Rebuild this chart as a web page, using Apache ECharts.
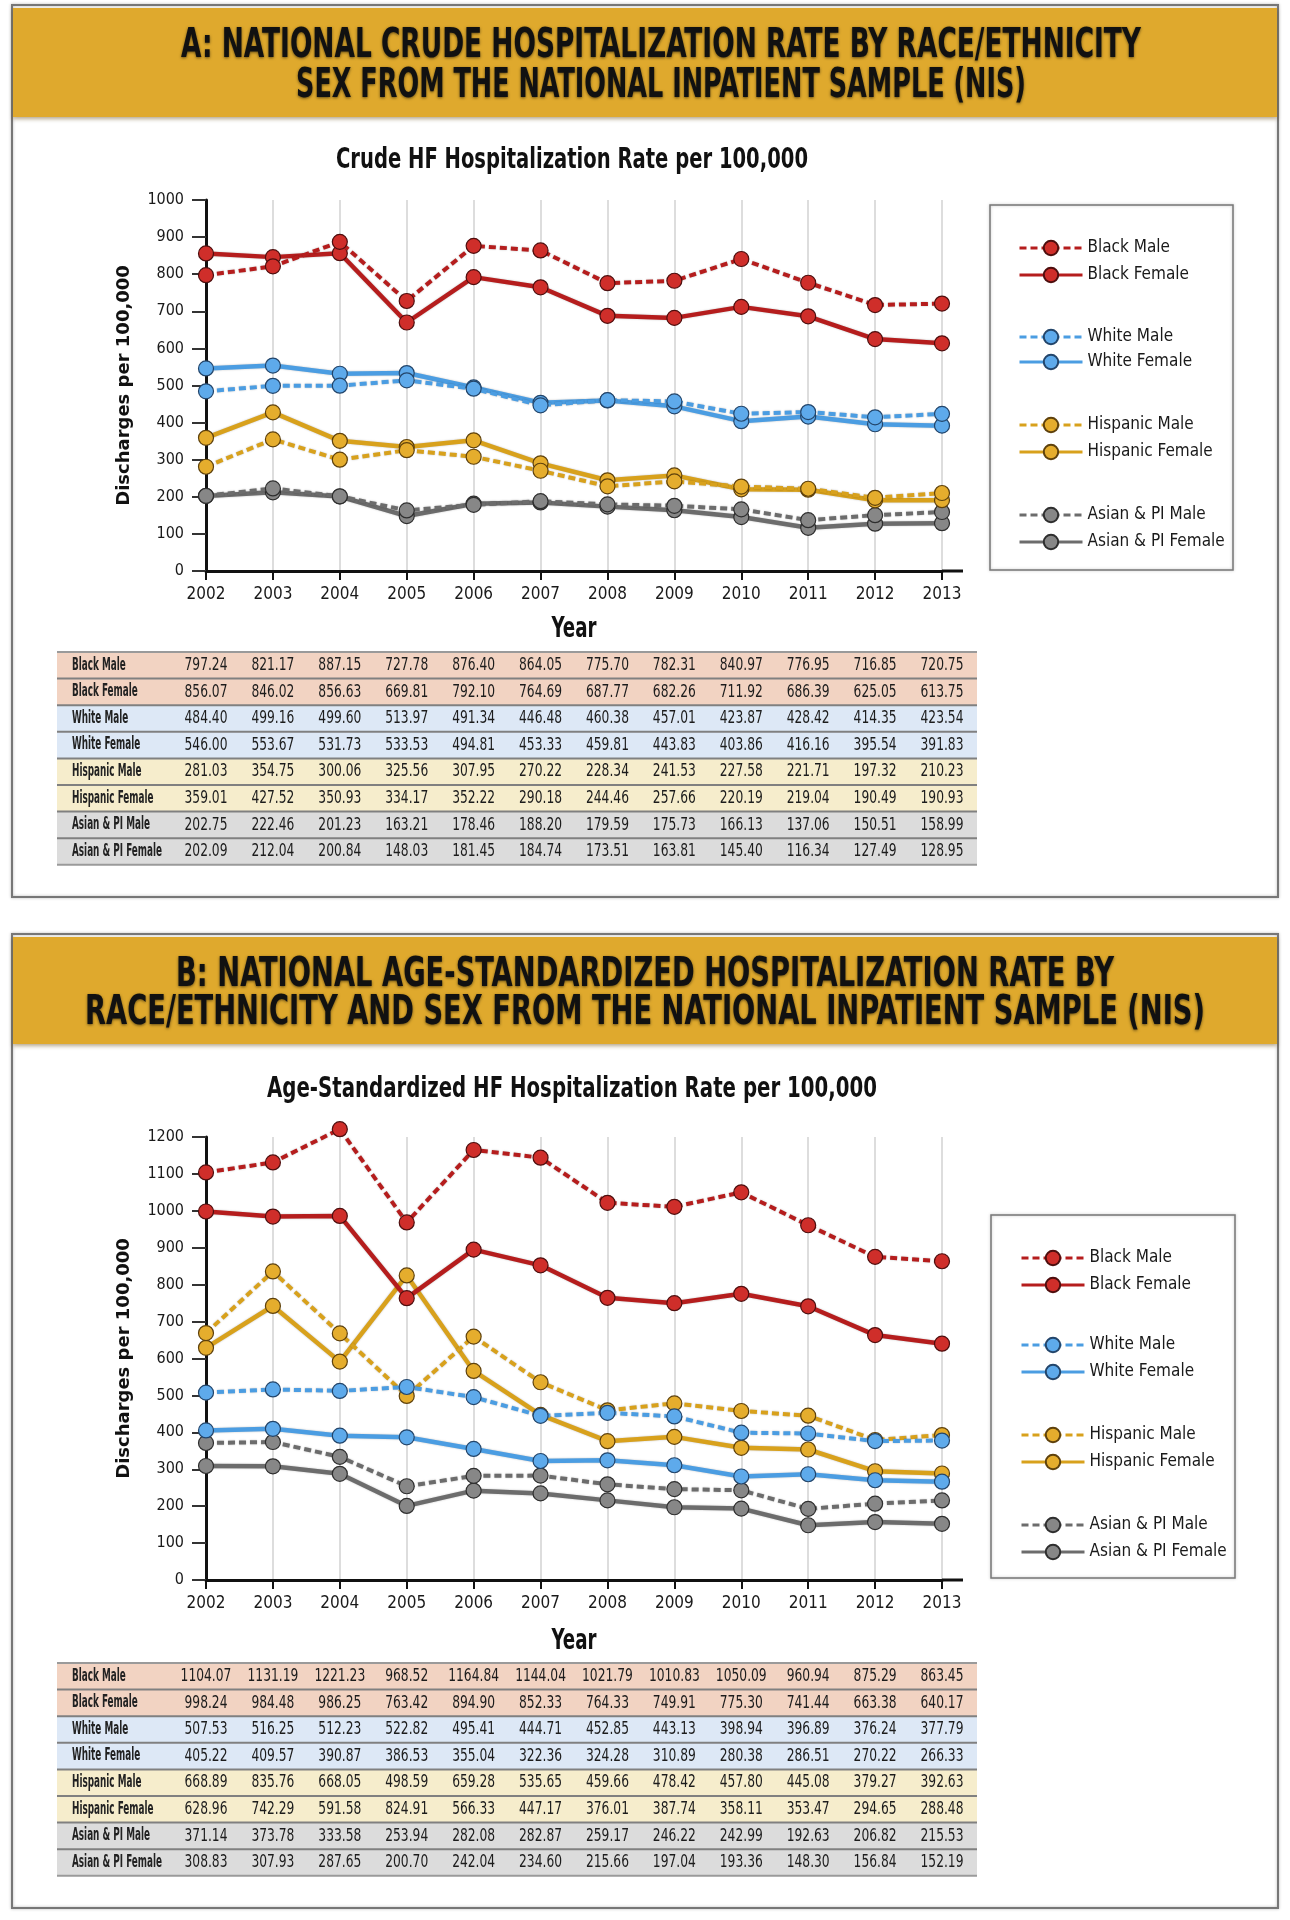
<!DOCTYPE html>
<html><head><meta charset="utf-8">
<script src="https://cdn.jsdelivr.net/npm/echarts/dist/echarts.min.js"></script>
<style>html,body{margin:0;padding:0;background:#fff}#c{width:1290px;height:1920px}</style>
</head><body><div id="c"></div>
<script>
// ---------------- DATA ----------------
const years = ['2002','2003','2004','2005','2006','2007','2008','2009','2010','2011','2012','2013'];
const seriesNames = ['Black Male','Black Female','White Male','White Female','Hispanic Male','Hispanic Female','Asian & PI Male','Asian & PI Female'];
const yTicksA = {min:0, max:1000, step:100};
const yTicksB = {min:0, max:1200, step:100};

// A: crude rate
const blackMaleA    = [797.24, 821.17, 887.15, 727.78, 876.40, 864.05, 775.70, 782.31, 840.97, 776.95, 716.85, 720.75];
const blackFemaleA  = [856.07, 846.02, 856.63, 669.81, 792.10, 764.69, 687.77, 682.26, 711.92, 686.39, 625.05, 613.75];
const whiteMaleA    = [484.40, 499.16, 499.60, 513.97, 491.34, 446.48, 460.38, 457.01, 423.87, 428.42, 414.35, 423.54];
const whiteFemaleA  = [546.00, 553.67, 531.73, 533.53, 494.81, 453.33, 459.81, 443.83, 403.86, 416.16, 395.54, 391.83];
const hispMaleA     = [281.03, 354.75, 300.06, 325.56, 307.95, 270.22, 228.34, 241.53, 227.58, 221.71, 197.32, 210.23];
const hispFemaleA   = [359.01, 427.52, 350.93, 334.17, 352.22, 290.18, 244.46, 257.66, 220.19, 219.04, 190.49, 190.93];
const asianMaleA    = [202.75, 222.46, 201.23, 163.21, 178.46, 188.20, 179.59, 175.73, 166.13, 137.06, 150.51, 158.99];
const asianFemaleA  = [202.09, 212.04, 200.84, 148.03, 181.45, 184.74, 173.51, 163.81, 145.40, 116.34, 127.49, 128.95];

// B: age-standardized rate
const blackMaleB    = [1104.07, 1131.19, 1221.23, 968.52, 1164.84, 1144.04, 1021.79, 1010.83, 1050.09, 960.94, 875.29, 863.45];
const blackFemaleB  = [998.24, 984.48, 986.25, 763.42, 894.90, 852.33, 764.33, 749.91, 775.30, 741.44, 663.38, 640.17];
const whiteMaleB    = [507.53, 516.25, 512.23, 522.82, 495.41, 444.71, 452.85, 443.13, 398.94, 396.89, 376.24, 377.79];
const whiteFemaleB  = [405.22, 409.57, 390.87, 386.53, 355.04, 322.36, 324.28, 310.89, 280.38, 286.51, 270.22, 266.33];
const hispMaleB     = [668.89, 835.76, 668.05, 498.59, 659.28, 535.65, 459.66, 478.42, 457.80, 445.08, 379.27, 392.63];
const hispFemaleB   = [628.96, 742.29, 591.58, 824.91, 566.33, 447.17, 376.01, 387.74, 358.11, 353.47, 294.65, 288.48];
const asianMaleB    = [371.14, 373.78, 333.58, 253.94, 282.08, 282.87, 259.17, 246.22, 242.99, 192.63, 206.82, 215.53];
const asianFemaleB  = [308.83, 307.93, 287.65, 200.70, 242.04, 234.60, 215.66, 197.04, 193.36, 148.30, 156.84, 152.19];

const dataA = [blackMaleA, blackFemaleA, whiteMaleA, whiteFemaleA, hispMaleA, hispFemaleA, asianMaleA, asianFemaleA];
const dataB = [blackMaleB, blackFemaleB, whiteMaleB, whiteFemaleB, hispMaleB, hispFemaleB, asianMaleB, asianFemaleB];

const headerA = ['A: NATIONAL CRUDE HOSPITALIZATION RATE BY RACE/ETHNICITY', 'SEX FROM THE NATIONAL INPATIENT SAMPLE (NIS)'];
const headerB = ['B: NATIONAL AGE-STANDARDIZED HOSPITALIZATION RATE BY', 'RACE/ETHNICITY AND SEX FROM THE NATIONAL INPATIENT SAMPLE (NIS)'];
const titleA = 'Crude HF Hospitalization Rate per 100,000';
const titleB = 'Age-Standardized HF Hospitalization Rate per 100,000';
const yName = 'Discharges per 100,000';
const xName = 'Year';

// ---------------- STYLE ----------------
const NARROW = '"Liberation Sans Narrow","DejaVu Sans Condensed","Liberation Sans",sans-serif';
const groupStyle = [
  {line:'#b51d1d', fill:'#cf2e2a', border:'#4d0e0e', row:'#f2d3c2'},
  {line:'#4b9de2', fill:'#5eaaeb', border:'#23456a', row:'#dde8f6'},
  {line:'#d8a11c', fill:'#e5ad2d', border:'#5e410c', row:'#f6edcc'},
  {line:'#6c6c6c', fill:'#878787', border:'#2e2e2e', row:'#dcdcdc'}
];

const layout = {
  A: {panelTop:5, panelBottom:897, goldTop:8, goldBottom:117, h1:46, h2:86, headCx:661, headW:[960,730],
      titleY:161, titleW:472, gridTop:200, gridBottom:571, legendBox:[990,205,1233,570],
      legendLeft:1013, legendRows:[243,270,332,357,420,447,510,537], tableTop:652, yearY:630},
  B: {panelTop:934, panelBottom:1908, goldTop:937, goldBottom:1044, h1:975, h2:1013, headCx:645, headW:[938,1120],
      titleY:1090, titleW:610, gridTop:1137, gridBottom:1580, legendBox:[991,1215,1235,1578],
      legendLeft:1015, legendRows:[1253,1280,1340,1367,1430,1457,1520,1547], tableTop:1663, yearY:1642}
};
const gridLeft = 206, gridRight = 942;

const mc = document.createElement('canvas').getContext('2d');
function measure(str, weight, size, family) {
  mc.font = weight + ' ' + size + 'px ' + family;
  return mc.measureText(str).width;
}
function fitText(str, weight, size, family, cx, cy, targetW, sy, extra) {
  const w = measure(str, weight, size, family);
  return {type:'text', x:cx, y:cy, scaleX: targetW / w, scaleY: sy, z:10,
    style: Object.assign({text:str, fontFamily:family, fontSize:size, fontWeight:weight, fill:'#111',
      align:'center', verticalAlign:'middle'}, extra || {})};
}

const chart = echarts.init(document.getElementById('c'), null, {renderer:'canvas'});

function makeSeries(datasets, k) {
  return datasets.map((d, i) => {
    const g = groupStyle[Math.floor(i / 2)];
    const dashed = i % 2 === 0;
    return {
      type:'line', name: seriesNames[i], xAxisIndex:k, yAxisIndex:k, data:d,
      symbol:'circle', symbolSize:15, clip:false, animation:false,
      z: 2 + (7 - i) * 0.1,
      lineStyle:{color:g.line, width: dashed ? 4 : 4.5, type: dashed ? [7,4] : 'solid',
        shadowColor:'rgba(0,0,0,0.25)', shadowBlur:2},
      itemStyle:{color:g.fill, borderColor:g.border, borderWidth:1.2},
      emphasis:{disabled:true}
    };
  });
}

function axes(k, ticks) {
  const x = {
    type:'category', gridIndex:k, data:years, boundaryGap:false,
    axisLine:{lineStyle:{color:'#111', width:3}},
    axisTick:{show:true, length:9, lineStyle:{color:'#111', width:2}},
    axisLabel:{fontFamily:NARROW, fontSize:17, color:'#1a1a1a', margin:15},
    splitLine:{show:true, lineStyle:{color:'#d2d2d2', width:1.5}}
  };
  const y = {
    type:'value', gridIndex:k, min:ticks.min, max:ticks.max, interval:ticks.step,
    axisLine:{show:true, lineStyle:{color:'#111', width:3}},
    axisTick:{show:true, length:14, lineStyle:{color:'#333', width:2}},
    axisLabel:{fontFamily:NARROW, fontSize:16, color:'#1a1a1a', margin:22, formatter: v => String(v)},
    splitLine:{show:false}
  };
  return [x, y];
}

function legends(L) {
  return [0,1,2,3].map(g => ({
    orient:'vertical', left:L.legendLeft, top:L.legendRows[g*2] - 9,
    itemWidth:63, itemHeight:18, itemGap:L.legendRows[g*2+1] - L.legendRows[g*2] - 18, selectedMode:false,
    data:[seriesNames[g*2], seriesNames[g*2+1]],
    lineStyle:{width:3},
    textStyle:{fontFamily:NARROW, fontSize:17, lineHeight:18, color:'#1a1a1a'}
  }));
}

// common horizontal squeeze for the table text
const valScale = 43 / measure('797.24', 'normal', 16, NARROW);
const labScale = 90 / measure('Asian & PI Female', 'bold', 16, NARROW);

function panelGraphics(L, head, title, datasets) {
  const els = [];
  els.push({type:'rect', shape:{x:12, y:L.panelTop, width:1266, height:L.panelBottom - L.panelTop},
    style:{fill:null, stroke:'#777', lineWidth:2, shadowColor:'rgba(0,0,0,0.3)', shadowBlur:3}, z:1});
  els.push({type:'rect', shape:{x:13, y:L.goldTop, width:1264, height:L.goldBottom - L.goldTop},
    style:{fill:'#dfa92d', shadowColor:'rgba(90,60,0,0.45)', shadowBlur:4, shadowOffsetY:2}, z:2});
  const hs = {textShadowColor:'rgba(0,0,0,0.55)', textShadowBlur:3, textShadowOffsetY:1};
  els.push(fitText(head[0], 'bold', 30, NARROW, L.headCx, L.h1, L.headW[0], 1.35, hs));
  els.push(fitText(head[1], 'bold', 30, NARROW, L.headCx, L.h2, L.headW[1], 1.35, hs));
  els.push(fitText(title, 'bold', 24, NARROW, 572, L.titleY, L.titleW, 1.15));
  els.push({type:'text', x:124, y:(L.gridTop + L.gridBottom) / 2, rotation:Math.PI / 2, z:10,
    style:{text:yName, fontFamily:'"DejaVu Sans",sans-serif', fontWeight:'bold', fontSize:18,
      fill:'#111', align:'center', verticalAlign:'middle'}});
  els.push(fitText(xName, 'bold', 24, NARROW, (gridLeft + gridRight) / 2, L.yearY, 45, 1.15));
  els.push({type:'line', shape:{x1:gridRight, y1:L.gridBottom, x2:963, y2:L.gridBottom},
    style:{stroke:'#111', lineWidth:3}, z:5});
  const b = L.legendBox;
  els.push({type:'rect', shape:{x:b[0], y:b[1], width:b[2] - b[0], height:b[3] - b[1]},
    style:{fill:null, stroke:'#777', lineWidth:1.5, shadowColor:'rgba(0,0,0,0.25)', shadowBlur:3}, z:3});
  // data table
  const rowH = 26.6, tLeft = 57, tRight = 977;
  const step = (gridRight - gridLeft) / (years.length - 1);
  for (let r = 0; r < 8; r++) {
    const y0 = L.tableTop + r * rowH;
    const g = groupStyle[Math.floor(r / 2)];
    els.push({type:'rect', shape:{x:tLeft, y:y0, width:tRight - tLeft, height:rowH}, style:{fill:g.row}, z:2});
    els.push({type:'text', x:tLeft + 15, y:y0 + rowH / 2, scaleX:labScale, scaleY:1.05, z:4,
      style:{text:seriesNames[r], fontFamily:NARROW, fontWeight:'bold', fontSize:16, fill:'#222',
        align:'left', verticalAlign:'middle'}});
    datasets[r].forEach((v, i) => {
      els.push({type:'text', x:gridLeft + i * step, y:y0 + rowH / 2, scaleX:valScale, scaleY:1.15, z:4,
        style:{text:v.toFixed(2), fontFamily:NARROW, fontSize:16, fill:'#1c1c1c',
          align:'center', verticalAlign:'middle'}});
    });
  }
  for (let r = 0; r <= 8; r++) {
    const y = L.tableTop + r * rowH;
    els.push({type:'line', shape:{x1:tLeft, y1:y, x2:tRight, y2:y},
      style:{stroke: (r === 0 || r === 8) ? '#9a9a9a' : '#808080', lineWidth:2}, z:3});
  }
  return els;
}

const axA = axes(0, yTicksA);
const axB = axes(1, yTicksB);

chart.setOption({
  animation:false,
  backgroundColor:'#ffffff',
  grid:[
    {left:gridLeft, width:gridRight - gridLeft, top:layout.A.gridTop, height:layout.A.gridBottom - layout.A.gridTop},
    {left:gridLeft, width:gridRight - gridLeft, top:layout.B.gridTop, height:layout.B.gridBottom - layout.B.gridTop}
  ],
  xAxis:[axA[0], axB[0]],
  yAxis:[axA[1], axB[1]],
  legend: legends(layout.A).concat(legends(layout.B)),
  series: makeSeries(dataA, 0).concat(makeSeries(dataB, 1)),
  graphic: panelGraphics(layout.A, headerA, titleA, dataA).concat(panelGraphics(layout.B, headerB, titleB, dataB))
});
</script></body></html>
